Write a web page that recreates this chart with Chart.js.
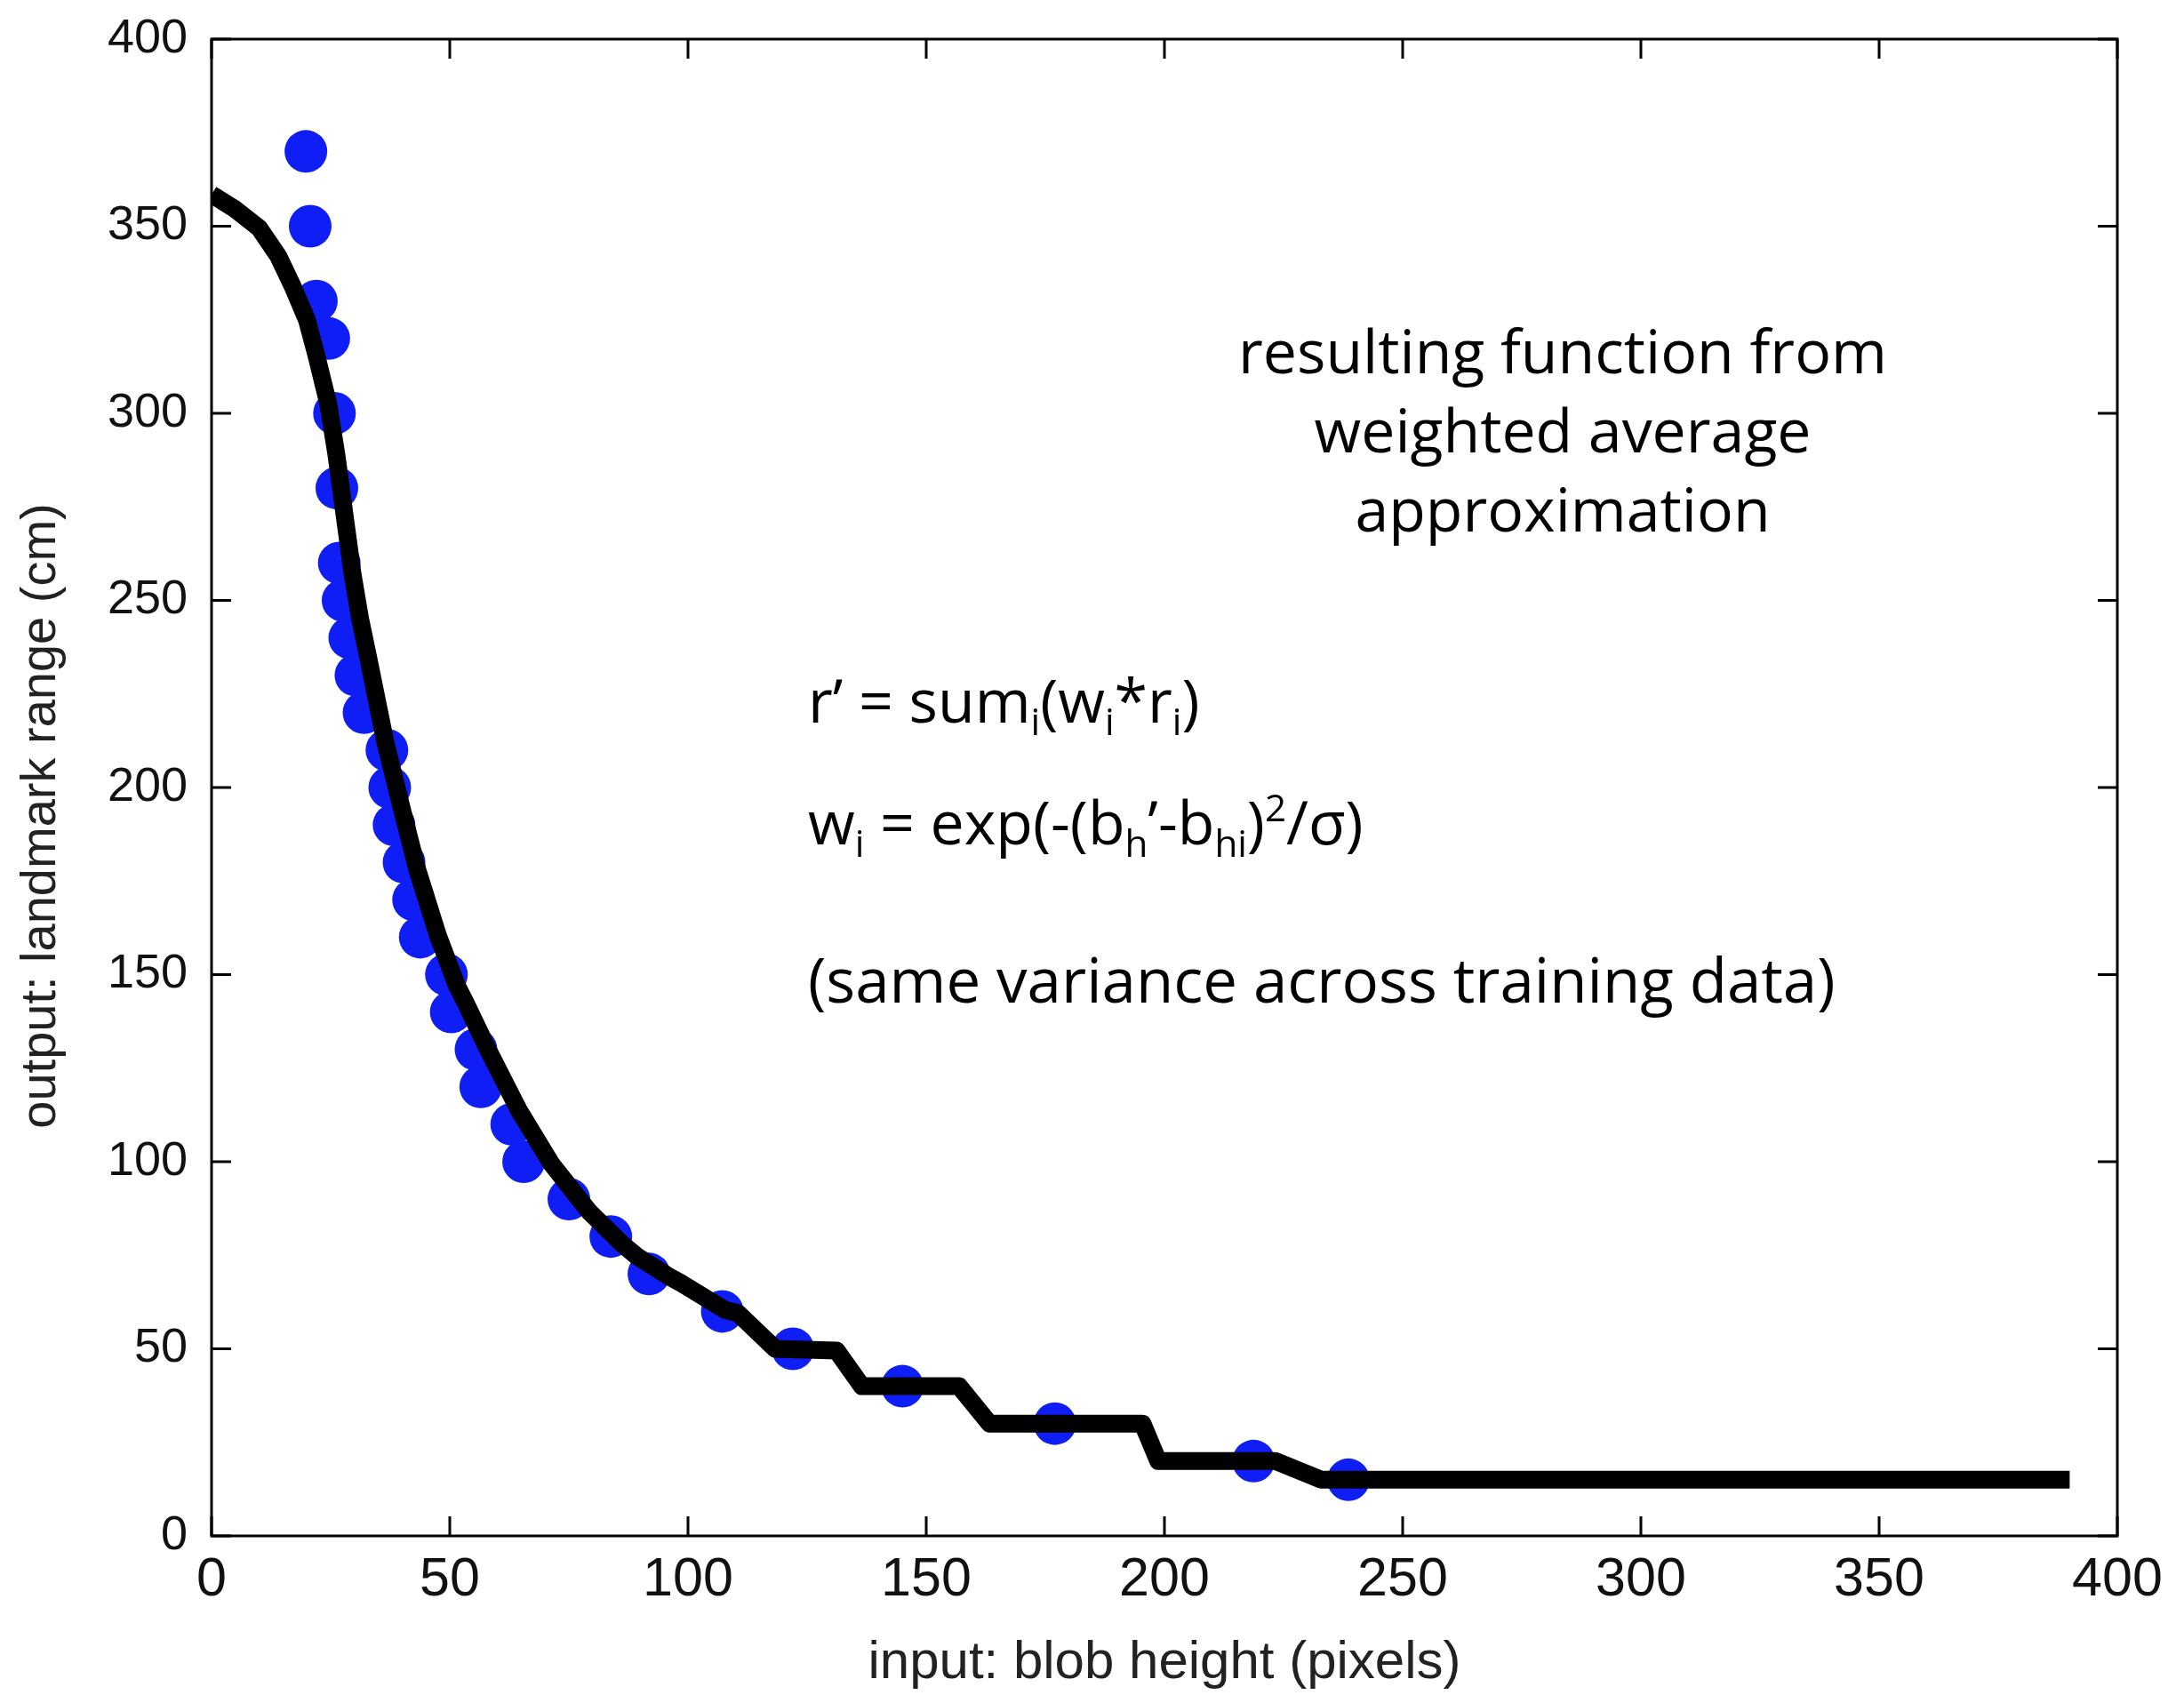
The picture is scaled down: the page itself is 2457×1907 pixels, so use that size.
<!DOCTYPE html>
<html>
<head>
<meta charset="utf-8">
<script src="https://cdn.jsdelivr.net/npm/chart.js@4"></script>
<style>
  html, body { margin: 0; padding: 0; background: #fff; }
  #wrap { width: 2457px; height: 1907px; position: relative; }
</style>
</head>
<body>
<div id="wrap"><canvas id="rangeChart"></canvas></div>
<script>
// training samples (blob height in pixels -> landmark range in cm)
const trainX = [19.8, 20.7, 22.0, 24.6, 25.8, 26.3, 26.8, 27.6, 29.0, 30.3, 32.0, 36.8, 37.4, 38.3, 40.4, 42.4,
                43.8, 49.3, 50.3, 55.5, 56.5, 63.0, 65.5, 75.0, 83.8, 91.8, 107.2, 122.0, 145.0, 177.0, 218.7, 238.6];
const trainY = [370, 350, 330, 320, 300, 280, 260, 250, 240, 230, 220, 210, 200, 190, 180, 170,
                160, 150, 140, 130, 120, 110, 100, 90, 80, 70, 60, 50, 40, 30, 20, 15];

// weighted average approximation
const curveX = [0, 5, 10, 14, 17, 20, 22, 24.5, 26.2, 28, 29.6, 31.2, 33, 36.5, 40, 43.2, 47.5, 51.5, 53.2, 56.5,
                58.2, 62.4, 64.4, 71.3, 79.3, 86.2, 89.3, 95.8, 98.6, 107.6, 110.5, 118.3, 131.2, 136.5, 156.9,
                163.3, 195.4, 198.7, 223.3, 232.9, 390];
const curveY = [358.5, 354.5, 349.5, 342, 334, 325, 315.5, 302.5, 289, 272, 257, 245, 234, 212, 194, 178, 160.5, 147, 142.8, 134,
                129.5, 119, 114, 99.5, 86.6, 78, 74.7, 69.5, 67.5, 60.5, 59.5, 50, 49.5, 40, 40,
                30, 30, 20, 20, 15, 15];

const xTicks = [0, 50, 100, 150, 200, 250, 300, 350, 400];
const yTicks = [0, 50, 100, 150, 200, 250, 300, 350, 400];

const xTitle = "input: blob height (pixels)";
const yTitle = "output: landmark range (cm)";
const headLines = ["resulting function from", "weighted average", "approximation"];
// formula pieces: [text, kind] where kind is "", "sub" or "sup"
const formula1 = [["r\u2019 = sum", ""], ["i", "sub"], ["(w", ""], ["i", "sub"], ["*r", ""], ["i", "sub"], [")", ""]];
const formula2 = [["w", ""], ["i", "sub"], [" = exp(-(b", ""], ["h", "sub"], ["\u2019-b", ""], ["hi", "sub"], [")", ""], ["2", "sup"], ["/\u03c3)", ""]];
const noteLine = "(same variance across training data)";

const noteFont = "'Open Sans', 'DejaVu Sans', sans-serif";

// box round the plot with inward ticks on all four sides
const boxTicks = {
    id: "boxTicks",
    afterDatasetsDraw(chart) {
        const { ctx, chartArea: a, scales } = chart;
        const len = 22;
        ctx.save();
        ctx.strokeStyle = "#000";
        ctx.lineWidth = 3;
        ctx.strokeRect(a.left, a.top, a.right - a.left, a.bottom - a.top);
        ctx.beginPath();
        scales.x.ticks.forEach(t => {
            const px = scales.x.getPixelForValue(t.value);
            ctx.moveTo(px, a.bottom); ctx.lineTo(px, a.bottom - len);
            ctx.moveTo(px, a.top); ctx.lineTo(px, a.top + len);
        });
        scales.y.ticks.forEach(t => {
            const py = scales.y.getPixelForValue(t.value);
            ctx.moveTo(a.left, py); ctx.lineTo(a.left + len, py);
            ctx.moveTo(a.right, py); ctx.lineTo(a.right - len, py);
        });
        ctx.stroke();
        ctx.restore();
    }
};

function drawPieces(ctx, pieces, x, y, size) {
    pieces.forEach(([txt, kind]) => {
        let fs = size, dy = 0;
        if (kind === "sub") { fs = size * 0.62; dy = size * 0.2; }
        if (kind === "sup") { fs = size * 0.62; dy = -size * 0.38; }
        ctx.font = `${fs}px ${noteFont}`;
        ctx.fillText(txt, x, y + dy);
        x += ctx.measureText(txt).width;
    });
}

const notes = {
    id: "notes",
    afterDraw(chart) {
        const { ctx } = chart;
        ctx.save();
        ctx.fillStyle = "#000";
        ctx.textBaseline = "alphabetic";

        const size = 68;
        ctx.font = `${size}px ${noteFont}`;
        ctx.textAlign = "center";
        headLines.forEach((line, i) => ctx.fillText(line, 1758, 420 + i * 89));

        ctx.textAlign = "left";
        drawPieces(ctx, formula1, 909, 813, size);
        drawPieces(ctx, formula2, 909, 950, size);
        ctx.font = `69px ${noteFont}`;
        ctx.fillText(noteLine, 909, 1128);

        // y axis title
        ctx.font = "56px 'Liberation Sans', Arial, sans-serif";
        ctx.fillStyle = "#222";
        ctx.textAlign = "center";
        ctx.textBaseline = "middle";
        ctx.translate(47, 918);
        ctx.rotate(-Math.PI / 2);
        ctx.fillText(yTitle, 0, 0);
        ctx.restore();
    }
};

const ctx = document.getElementById("rangeChart").getContext("2d");

new Chart(ctx, {
    type: "scatter",
    data: {
        datasets: [{
            label: "weighted average",
            data: curveX.map((x, i) => ({ x, y: curveY[i] })),
            showLine: true,
            borderColor: "#000",
            borderWidth: 20,
            borderJoinStyle: "round",
            pointRadius: 0,
            tension: 0
        }, {
            label: "training data",
            data: trainX.map((x, i) => ({ x, y: trainY[i] })),
            backgroundColor: "rgb(14, 30, 245)",
            borderWidth: 0,
            pointRadius: 24,
            pointHoverRadius: 24
        }]
    },
    options: {
        responsive: true,
        maintainAspectRatio: false,
        animation: false,
        events: [],
        layout: { padding: { top: 44, right: 75, left: 0, bottom: 0 } },
        plugins: {
            legend: { display: false },
            tooltip: { enabled: false }
        },
        scales: {
            x: {
                type: "linear",
                min: 0,
                max: 400,
                afterBuildTicks: scale => { scale.ticks = xTicks.map(v => ({ value: v })); },
                afterFit: scale => { scale.height = 179; },
                grid: { display: false, drawTicks: false },
                border: { display: false },
                ticks: {
                    color: "#111",
                    font: { family: "'Liberation Sans', Arial, sans-serif", size: 61 },
                    padding: 14,
                    maxRotation: 0
                },
                title: {
                    display: true,
                    text: xTitle,
                    color: "#222",
                    font: { family: "'Liberation Sans', Arial, sans-serif", size: 60 },
                    padding: { top: 0, bottom: 0 }
                }
            },
            y: {
                type: "linear",
                min: 0,
                max: 400,
                afterBuildTicks: scale => { scale.ticks = yTicks.map(v => ({ value: v })); },
                afterFit: scale => {
                    scale.width = 238;
                    scale.paddingTop = 0;
                    scale.paddingBottom = 0;
                },
                grid: { display: false, drawTicks: false },
                border: { display: false },
                ticks: {
                    color: "#111",
                    font: { family: "'Liberation Sans', Arial, sans-serif", size: 54 },
                    padding: 27
                }
            }
        }
    },
    plugins: [boxTicks, notes]
});
</script>
</body>
</html>
